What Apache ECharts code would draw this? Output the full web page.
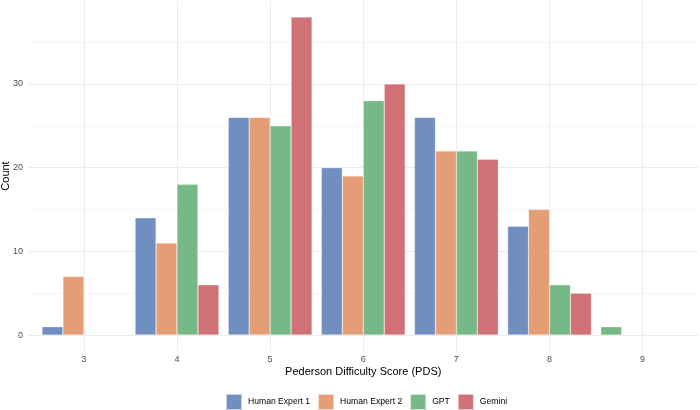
<!DOCTYPE html>
<html>
<head>
<meta charset="utf-8">
<script src="https://cdn.jsdelivr.net/npm/echarts@6/dist/echarts.min.js"></script>
<style>
  html, body { margin: 0; padding: 0; background: #fff; }
  #chart { width: 700px; height: 410px; }
</style>
</head>
<body>
<div id="chart"></div>
<script>
// PDS scores and counts per rater
const categories = [3, 4, 5, 6, 7, 8, 9];
const humanExpert1 = [1, 14, 26, 20, 26, 13, 0];
const humanExpert2 = [7, 11, 26, 19, 22, 15, 0];
const gpt = [0, 18, 25, 28, 22, 6, 1];
const gemini = [0, 6, 38, 30, 21, 5, 0];
const seriesNames = ['Human Expert 1', 'Human Expert 2', 'GPT', 'Gemini'];
const yTicks = [0, 10, 20, 30];
const yMinorTicks = [5, 15, 25, 35];

const colors = ['#708EC0', '#E49D75', '#77B986', '#D07175'];
const allSeries = [humanExpert1, humanExpert2, gpt, gemini];
const font = '"Liberation Sans", Arial, sans-serif';

window.addEventListener('load', function () {
    let chart = echarts.init(document.getElementById('chart'));

    // bars in each group are packed to the left (like ggplot dodge, preserve single)
    let slots = [[], [], [], []];
    categories.forEach(function (c, i) {
        let k = 0;
        allSeries.forEach(function (s, j) {
            if (s[i] > 0) {
                let item = { value: [c, s[i]] };
                if (j !== k) item.itemStyle = { color: colors[j] };
                slots[k].push(item);
                k++;
            }
        });
    });

    let series = slots.map(function (data, k) {
        return {
            name: seriesNames[k],
            type: 'bar',
            data: data,
            barGap: '0%',
            barCategoryGap: '10%',
            itemStyle: {
                color: colors[k],
                borderColor: 'rgba(255,255,255,0.6)',
                borderWidth: 0.5
            }
        };
    });

    let option = {
        animation: false,
        textStyle: { fontFamily: font },
        grid: { left: 28, right: 1.5, top: 1, bottom: 59, containLabel: false, outerBoundsMode: 'none' },
        legend: {
            top: 393,
            left: 225,
            padding: 0,
            icon: 'rect',
            itemWidth: 16,
            itemHeight: 16,
            itemGap: 7,
            data: seriesNames,
            textStyle: { fontSize: 8.6, color: '#000', fontFamily: font, padding: [0, 0, 0, 1] }
        },
        xAxis: {
            type: 'value',
            min: 2.4,
            max: 9.6,
            name: 'Pederson Difficulty Score (PDS)',
            nameLocation: 'middle',
            nameGap: 15,
            nameMoveOverlap: false,
            nameTextStyle: { fontSize: 11, color: '#000', fontFamily: font },
            axisLine: { show: false },
            axisTick: { show: false, customValues: categories },
            axisLabel: { customValues: categories, margin: 4, fontSize: 9, color: '#4D4D4D', fontFamily: font },
            splitLine: { show: true, lineStyle: { color: '#EBEBEB', width: 1 } }
        },
        yAxis: [{
            type: 'value',
            min: -1.9,
            max: 39.9,
            name: 'Count',
            nameLocation: 'middle',
            nameGap: 17,
            nameMoveOverlap: false,
            nameTextStyle: { fontSize: 11, color: '#000', fontFamily: font },
            axisLine: { show: false },
            axisTick: { show: false, customValues: yTicks },
            axisLabel: { customValues: yTicks, margin: 5, fontSize: 9, color: '#4D4D4D', fontFamily: font },
            splitLine: { show: true, lineStyle: { color: '#EBEBEB', width: 1 } }
        }, {
            type: 'value',
            min: -1.9,
            max: 39.9,
            position: 'left',
            axisLine: { show: false },
            axisTick: { show: false, customValues: yMinorTicks },
            axisLabel: { show: false, customValues: yMinorTicks },
            splitLine: { show: true, lineStyle: { color: '#F5F5F5', width: 1 } }
        }],
        series: series
    };
    chart.setOption(option);
}, false);
</script>
</body>
</html>
